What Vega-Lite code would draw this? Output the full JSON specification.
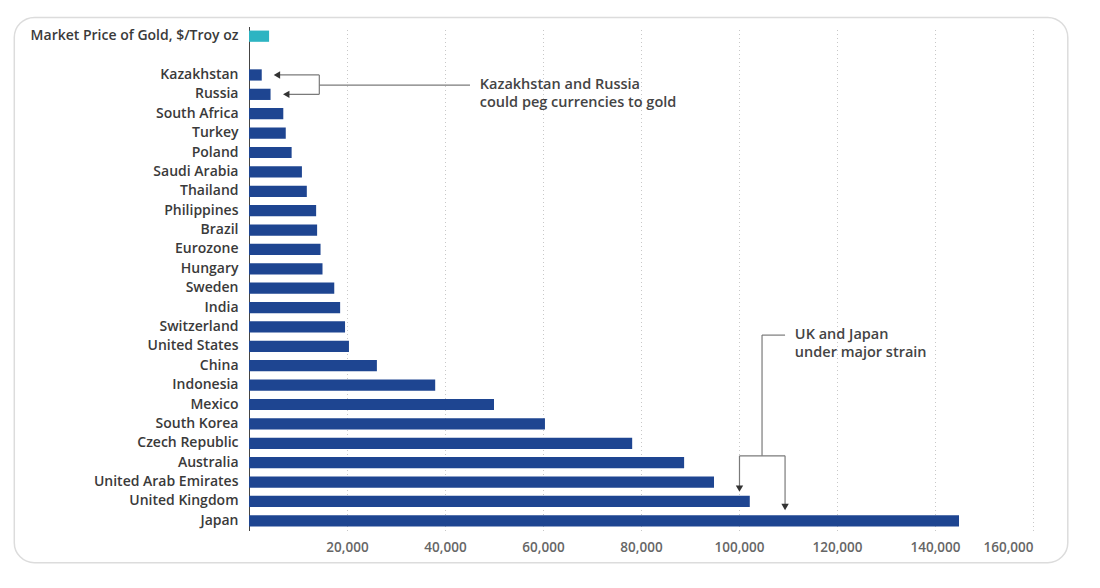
{
  "$schema": "https://vega.github.io/schema/vega-lite/v6.json",
  "width": 784,
  "height": 504,
  "autosize": "none",
  "padding": {"left": 249, "top": 26.5, "right": 67, "bottom": 57.5},
  "background": "#ffffff",
  "config": {"view": {"stroke": null}, "font": "Open Sans"},
  "datasets": {
    "bars": [
      {"name": "Market Price of Gold, $/Troy oz", "value": 4100, "kind": "gold"},
      {"name": "Kazakhstan", "value": 2600, "kind": "country"},
      {"name": "Russia", "value": 4400, "kind": "country"},
      {"name": "South Africa", "value": 7000, "kind": "country"},
      {"name": "Turkey", "value": 7500, "kind": "country"},
      {"name": "Poland", "value": 8700, "kind": "country"},
      {"name": "Saudi Arabia", "value": 10800, "kind": "country"},
      {"name": "Thailand", "value": 11800, "kind": "country"},
      {"name": "Philippines", "value": 13700, "kind": "country"},
      {"name": "Brazil", "value": 13900, "kind": "country"},
      {"name": "Eurozone", "value": 14600, "kind": "country"},
      {"name": "Hungary", "value": 15000, "kind": "country"},
      {"name": "Sweden", "value": 17400, "kind": "country"},
      {"name": "India", "value": 18600, "kind": "country"},
      {"name": "Switzerland", "value": 19600, "kind": "country"},
      {"name": "United States", "value": 20400, "kind": "country"},
      {"name": "China", "value": 26100, "kind": "country"},
      {"name": "Indonesia", "value": 38000, "kind": "country"},
      {"name": "Mexico", "value": 50000, "kind": "country"},
      {"name": "South Korea", "value": 60400, "kind": "country"},
      {"name": "Czech Republic", "value": 78200, "kind": "country"},
      {"name": "Australia", "value": 88800, "kind": "country"},
      {"name": "United Arab Emirates", "value": 94900, "kind": "country"},
      {"name": "United Kingdom", "value": 102200, "kind": "country"},
      {"name": "Japan", "value": 144900, "kind": "country"}
    ],
    "frame": [
      {"x": -47900, "x2": 167100, "r": -0.47, "r2": 27.66}
    ],
    "segments": [
      {"x": 5700, "x2": 14350, "r": 2.5, "r2": 2.5},
      {"x": 7600, "x2": 14350, "r": 3.5, "r2": 3.5},
      {"x": 14350, "x2": 14350, "r": 2.5, "r2": 3.5},
      {"x": 14350, "x2": 45100, "r": 3.02, "r2": 3.02},
      {"x": 104700, "x2": 109400, "r": 15.92, "r2": 15.92},
      {"x": 104700, "x2": 104700, "r": 15.92, "r2": 22.15},
      {"x": 100100, "x2": 109400, "r": 22.15, "r2": 22.15},
      {"x": 100100, "x2": 100100, "r": 22.15, "r2": 23.84},
      {"x": 109400, "x2": 109400, "r": 22.15, "r2": 24.79}
    ],
    "arrows": [
      {"x": 5700, "r": 2.5, "dir": "triangle-left"},
      {"x": 7600, "r": 3.5, "dir": "triangle-left"},
      {"x": 100100, "r": 23.84, "dir": "triangle-down"},
      {"x": 109400, "r": 24.79, "dir": "triangle-down"}
    ],
    "notes": [
      {"x": 47100, "r": 3.02, "label": "Kazakhstan and Russia\ncould peg currencies to gold"},
      {"x": 111400, "r": 15.94, "label": "UK and Japan\nunder major strain"}
    ]
  },
  "layer": [
    {
      "data": {"name": "bars"},
      "mark": {"type": "bar"},
      "encoding": {
        "y": {
          "field": "name",
          "type": "nominal",
          "sort": null,
          "scale": {
            "domain": ["Market Price of Gold, $/Troy oz", " ", "Kazakhstan", "Russia", "South Africa", "Turkey", "Poland", "Saudi Arabia", "Thailand", "Philippines", "Brazil", "Eurozone", "Hungary", "Sweden", "India", "Switzerland", "United States", "China", "Indonesia", "Mexico", "South Korea", "Czech Republic", "Australia", "United Arab Emirates", "United Kingdom", "Japan"],
            "paddingInner": 0.42,
            "paddingOuter": 0.21
          },
          "axis": {
            "title": null,
            "ticks": false,
            "labelPadding": 11,
            "labelFont": "Open Sans",
            "labelFontSize": 14,
            "labelFontWeight": 600,
            "labelColor": "#3a3a3a",
            "labelLimit": 300,
            "domainColor": "#444444"
          }
        },
        "x": {
          "field": "value",
          "type": "quantitative",
          "scale": {"domain": [0, 160000], "nice": false},
          "axis": {
            "title": null,
            "values": [20000, 40000, 60000, 80000, 100000, 120000, 140000, 160000],
            "labelExpr": "format(datum.value, ',')",
            "ticks": false,
            "domain": false,
            "labelPadding": 10,
            "labelFont": "Open Sans",
            "labelFontSize": 13.5,
            "labelFontWeight": 600,
            "labelColor": "#666666",
            "gridColor": "#c8c8c8",
            "gridDash": [1, 3]
          }
        },
        "color": {
          "field": "kind",
          "type": "nominal",
          "legend": null,
          "scale": {"domain": ["gold", "country"], "range": ["#2db4c2", "#1e4591"]}
        }
      }
    },
    {
      "layer": [
        {
          "data": {"name": "frame"},
          "mark": {"type": "rect", "fill": "transparent", "stroke": "#dcdcdc", "strokeWidth": 1.5, "cornerRadius": 20},
          "encoding": {
            "x": {"field": "x", "type": "quantitative", "scale": {"domain": [0, 160000], "nice": false}},
            "x2": {"field": "x2"},
            "y": {"field": "r", "type": "quantitative", "scale": {"domain": [0, 26], "reverse": true, "nice": false, "zero": false}, "axis": null},
            "y2": {"field": "r2"}
          }
        },
        {
          "data": {"name": "segments"},
          "mark": {"type": "rule", "color": "#7a7a7a", "strokeWidth": 1.2},
          "encoding": {
            "x": {"field": "x", "type": "quantitative"},
            "x2": {"field": "x2"},
            "y": {"field": "r", "type": "quantitative"},
            "y2": {"field": "r2"}
          }
        },
        {
          "data": {"name": "arrows"},
          "mark": {"type": "point", "filled": true, "color": "#333333", "size": 55, "opacity": 1},
          "encoding": {
            "x": {"field": "x", "type": "quantitative"},
            "y": {"field": "r", "type": "quantitative"},
            "shape": {"field": "dir", "type": "nominal", "scale": null}
          }
        },
        {
          "data": {"name": "notes"},
          "mark": {"type": "text", "align": "left", "baseline": "middle", "lineBreak": "\n", "lineHeight": 18, "font": "Open Sans", "fontSize": 14.5, "fontWeight": 600, "color": "#444444"},
          "encoding": {
            "x": {"field": "x", "type": "quantitative"},
            "y": {"field": "r", "type": "quantitative"},
            "text": {"field": "label", "type": "nominal"}
          }
        }
      ]
    }
  ],
  "resolve": {"scale": {"y": "independent"}}
}
